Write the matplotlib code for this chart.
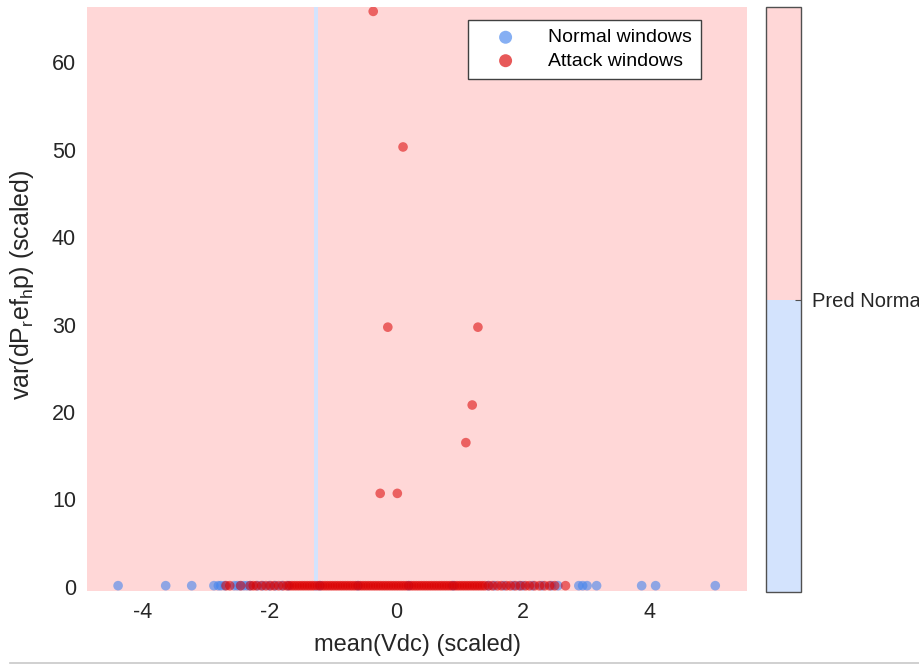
import numpy as np
import matplotlib
matplotlib.use('Agg')
import matplotlib.pyplot as plt
from matplotlib.colors import ListedColormap
from matplotlib.lines import Line2D

plt.rcParams['font.family'] = ['Liberation Sans', 'DejaVu Sans']
plt.rcParams['mathtext.fontset'] = 'custom'
plt.rcParams['mathtext.rm'] = 'Liberation Sans'
plt.rcParams['axes.unicode_minus'] = False

# decision regions (predicted class on mean(Vdc) axis): 0 = Pred Normal, 1 = Pred Attack
region_x_edges = [-4.87, -1.29, -1.23, 5.53]
region_y_edges = [-0.46, 66.3]
region_class = [[1, 0, 1]]

# normal windows (all on the bottom row)
normal_x = [-4.38, -3.63, -3.22, -2.87, -2.80, -2.76, -2.70, -2.55, -2.50, -2.45, -2.40,
            -2.35, -2.30, -2.18, -2.10, -2.00, -1.90, -1.80, -1.70, -1.20, -0.60, 0.20,
            0.90, 1.45, 1.55, 1.70, 1.85, 1.94, 2.00, 2.15, 2.30, 2.45, 2.55, 2.88,
            2.94, 3.01, 3.16, 3.87, 4.09, 5.03]
normal_y = [0.15] * len(normal_x)

# attack windows
attack_x = [-0.36, 0.11, -0.13, 1.29, 1.20, 1.10, -0.25, 0.02,
            -2.68, -2.62, -2.45, -2.30, -2.25, -2.20, -2.12, -2.05, -1.98, -1.92, -1.85,
            -1.78, -1.72, -1.68, -1.64, -1.60, -1.56, -1.52, -1.48, -1.44, -1.40, -1.36,
            -1.32, -1.28, -1.24, -1.20, -1.16, -1.12, -1.08, -1.04, -1.00, -0.96, -0.92,
            -0.88, -0.84, -0.80, -0.76, -0.72, -0.68, -0.64, -0.60, -0.56, -0.52, -0.48,
            -0.44, -0.40, -0.36, -0.32, -0.28, -0.24, -0.20, -0.16, -0.12, -0.08, -0.04,
            0.00, 0.04, 0.08, 0.12, 0.16, 0.20, 0.24, 0.28, 0.32, 0.36, 0.40, 0.44, 0.48,
            0.52, 0.56, 0.60, 0.64, 0.68, 0.72, 0.76, 0.80, 0.84, 0.88, 0.92, 0.96, 1.00,
            1.04, 1.08, 1.12, 1.16, 1.20, 1.24, 1.28, 1.32, 1.36, 1.40, 1.46, 1.52, 1.60,
            1.66, 1.74, 1.80, 1.88, 1.96, 2.04, 2.10, 2.18, 2.26, 2.34, 2.42, 2.50, 2.67]
attack_y = [65.8, 50.3, 29.7, 29.7, 20.8, 16.5, 10.7, 10.7] + [0.15] * (len(attack_x) - 8)

txt = '#262626'
fig = plt.figure(figsize=(9.19, 6.64), dpi=100)
ax = fig.add_axes([87 / 919, 73 / 664, 660 / 919, 584 / 664])
cax = fig.add_axes([766 / 919, 72 / 664, 35 / 919, 585 / 664])

cmap = ListedColormap(['#d3e3fd', '#ffd7d7'])
mesh = ax.pcolormesh(region_x_edges, region_y_edges, np.array(region_class),
                     cmap=cmap, vmin=0, vmax=1, shading='flat')

ax.scatter(normal_x, normal_y, s=48, color=(0.27, 0.52, 0.93), alpha=0.6,
           edgecolors='none', label='Normal windows', zorder=3)
ax.scatter(attack_x, attack_y, s=48, color=(0.86, 0.0, 0.0), alpha=0.55,
           edgecolors='none', label='Attack windows', zorder=4)

ax.set_xlim(region_x_edges[0], region_x_edges[-1])
ax.set_ylim(region_y_edges[0], region_y_edges[-1])
ax.set_xticks([-4, -2, 0, 2, 4])
ax.set_yticks([0, 10, 20, 30, 40, 50, 60])
for s in ax.spines.values():
    s.set_visible(False)
ax.tick_params(length=0, labelsize=15.5, labelcolor=txt, pad=8)
ax.set_xlabel('mean(Vdc) (scaled)', fontsize=17, color=txt, labelpad=8)
ax.set_ylabel(r'var(dP$_\mathrm{r}$ef$_\mathrm{h}$p) (scaled)', fontsize=18, color=txt)
ax.yaxis.set_label_coords(-0.077, 0.525)

leg = ax.legend(loc='upper right', bbox_to_anchor=(701 / 919, 1 - 20 / 664),
                bbox_transform=fig.transFigure, fontsize=14, frameon=True,
                fancybox=False, edgecolor='#404040', framealpha=1, borderaxespad=0,
                handletextpad=0.7, borderpad=0.45, labelspacing=0.3,
                markerscale=1.35, handlelength=3.0)
leg.get_frame().set_linewidth(1.0)
for h in leg.legend_handles:
    h.set_alpha(0.65)

cb = fig.colorbar(mesh, cax=cax)
cb.set_ticks([0.5])
cb.set_ticklabels(['Pred Normal'])
cb.outline.set_edgecolor('#505050')
cb.outline.set_linewidth(1.0)
cax.tick_params(direction='in', length=4, width=0.8, color='#505050',
                labelsize=14.5, labelcolor=txt, pad=8)

fig.add_artist(Line2D([10 / 919, 1.0], [1.5 / 664, 1.5 / 664], transform=fig.transFigure,
                      color='#c8c8c8', lw=1.2))

fig.savefig('out.png', dpi=100)
